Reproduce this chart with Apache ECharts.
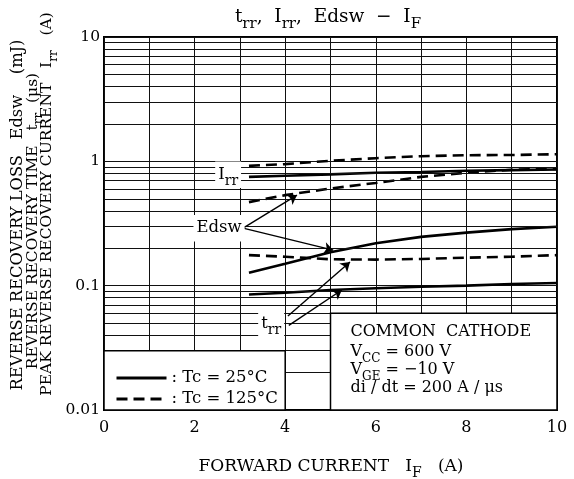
<!DOCTYPE html>
<html><head><meta charset="utf-8">
<script src="https://cdn.jsdelivr.net/npm/echarts@6/dist/echarts.min.js"></script>
<style>html,body{margin:0;padding:0;background:#fff}#c{width:574px;height:479px}</style>
</head><body><div id="c"></div>
<script>
// ---- data ----
const xs      = [3.2, 4, 5, 6, 7, 8, 9, 10];
const irr25   = [0.75, 0.766, 0.785, 0.81, 0.82, 0.84, 0.85, 0.86];
const irr125  = [0.92, 0.95, 1.01, 1.06, 1.10, 1.12, 1.125, 1.14];
const edsw25  = [0.127, 0.15, 0.186, 0.219, 0.247, 0.267, 0.285, 0.298];
const edsw125 = [0.47, 0.535, 0.605, 0.67, 0.75, 0.81, 0.855, 0.87];
const trr25   = [0.085, 0.0877, 0.0923, 0.0952, 0.098, 0.100, 0.103, 0.105];
const trr125  = [0.176, 0.171, 0.163, 0.162, 0.164, 0.168, 0.171, 0.176];
const xTickLabels = [0, 2, 4, 6, 8, 10];
const yTickLabels = ['0.01', '0.1', '1', '10'];
const minorY = [0.02,0.03,0.04,0.05,0.06,0.07,0.08,0.09,0.2,0.3,0.4,0.5,0.6,0.7,0.8,0.9,2,3,4,5,6,7,8,9];
// annotation anchors (data coords)
const irrLabelAt  = [2.74, 0.78];
const edswLabelAt = [2.54, 0.29];
const trrLabelAt  = [3.69, 0.049];
const edswArrows = [[[3.07, 0.29], [4.26, 0.535]], [[3.07, 0.29], [5.06, 0.193]]];
const trrArrows  = [[[4.06, 0.057], [5.43, 0.155]], [[4.08, 0.048], [5.25, 0.0923]]];
const legendBox = [[0, 0.03], [4, 0.01]];
const condBox   = [[5, 0.06], [10, 0.01]];

const F = 'DejaVu Serif';
const S25 = ': Tc = 25°C', S125 = ': Tc = 125°C';
const chart = echarts.init(document.getElementById('c'));
const pairs = ys => xs.map((x, i) => [x, ys[i]]);
const solidLS  = {type: 'solid', width: 2.6, color: '#000'};
const dashedLS = {type: [11, 6], width: 2.6, color: '#000'};
function curve(name, ys, ls) {
  return {type: 'line', name, data: pairs(ys), symbol: 'none', lineStyle: ls,
    itemStyle: {color: '#000'}, silent: true, z: 3};
}
const option = {
  animation: false,
  grid: {left: 104, top: 37, width: 453, height: 373, show: true, borderColor: '#000', borderWidth: 2},
  xAxis: {type: 'value', min: 0, max: 10, interval: 1,
    axisLine: {show: false}, axisTick: {show: false},
    splitLine: {show: true, lineStyle: {color: '#111', width: 1}},
    axisLabel: {color: '#000', fontFamily: F, fontSize: 16, margin: 10,
      formatter: v => xTickLabels.includes(v) ? String(v) : ''}},
  yAxis: {type: 'log', logBase: 10, min: 0.01, max: 10,
    axisLine: {show: false}, axisTick: {show: false},
    splitLine: {show: true, lineStyle: {color: '#111', width: 1}},
    axisLabel: {color: '#000', fontFamily: F, fontSize: 15.5, margin: 4,
      formatter: v => { const s = String(+(+v).toPrecision(2)); return yTickLabels.includes(s) ? s : ''; }}},
  legend: {data: [S25, S125], orient: 'vertical', left: 110, top: 363, padding: 5, itemWidth: 50, itemHeight: 14, itemGap: 1,
    itemStyle: {opacity: 0}, lineStyle: {width: 3},
    textStyle: {fontFamily: F, fontSize: 16.5, color: '#000', lineHeight: 20}, z: 10},
  series: [
    {type: 'line', name: 'minor', data: [], silent: true, z: 1,
      markLine: {silent: true, symbol: 'none', label: {show: false},
        lineStyle: {type: 'solid', color: '#111', width: 1},
        data: minorY.map(v => ({yAxis: v}))}},
    curve(S25, irr25, solidLS), curve(S125, irr125, dashedLS),
    curve(S25, edsw25, solidLS), curve(S125, edsw125, dashedLS),
    curve(S25, trr25, solidLS), curve(S125, trr125, dashedLS),
    {type: 'lines', coordinateSystem: 'cartesian2d', silent: true, z: 6,
      symbol: ['none', 'arrow'], symbolSize: [0, 9],
      lineStyle: {color: '#000', width: 1.4, opacity: 1},
      data: edswArrows.concat(trrArrows).map(c => ({coords: c}))}
  ]
};
chart.setOption(option);

const P = d => chart.convertToPixel({gridIndex: 0}, d);
function rt(text, base, subSize) {
  const L = base + 10;
  return {text, fontFamily: F, fontSize: base, fill: '#000',
    rich: {n: {fontFamily: F, fontSize: base, lineHeight: L},
           s: {fontFamily: F, fontSize: subSize, lineHeight: subSize + 2, verticalAlign: 'bottom'}}};
}
function boxRect(b) {
  const a = P(b[0]), c = P(b[1]);
  return {type: 'rect', shape: {x: a[0], y: a[1], width: c[0] - a[0], height: c[1] - a[1]},
    style: {fill: '#fff', stroke: '#000', lineWidth: 1.5}, z: 5};
}
function label(at, text) {
  const p = P(at);
  return {type: 'text', x: p[0], y: p[1], z: 7,
    style: Object.assign(rt(text, 16.5, 14), {align: 'center', verticalAlign: 'middle',
      backgroundColor: '#fff', padding: [0, 3, 0, 3]})};
}
const cb = P(condBox[0]);
const condLines = ['{n|COMMON  CATHODE}', '{n|V}{s|CC}{n| = 600 V}', '{n|V}{s|GE}{n| = −10 V}', '{n|di / dt = 200 A / μs}'];
const condOffsets = [19, 39, 57, 75];
const yTitle = [
  {x: 18, y: 215, size: 16.3, sub: 13, t: '{n|REVERSE RECOVERY LOSS   Edsw    (mJ)}'},
  {x: 32.5, y: 221, size: 15.5, sub: 12, t: '{n|REVERSE RECOVERY TIME   t}{s|rr}{n|  (μs)}'},
  {x: 47, y: 204, size: 15.5, sub: 12, t: '{n|PEAK REVERSE RECOVERY CURRENT   I}{s|rr}{n|   (A)}'}
];
const graphics = [boxRect(legendBox), boxRect(condBox),
  label(irrLabelAt, '{n|I}{s|rr}'), label(edswLabelAt, '{n|Edsw}'), label(trrLabelAt, '{n|t}{s|rr}')];
condLines.forEach((t, i) => graphics.push({type: 'text', x: cb[0] + 20, y: cb[1] + condOffsets[i], z: 8,
  style: Object.assign(rt(t, 16, 12), {align: 'left', verticalAlign: 'middle'})}));
yTitle.forEach(o => graphics.push({type: 'text', x: o.x, y: o.y, rotation: Math.PI / 2, z: 8,
  style: Object.assign(rt(o.t, o.size, o.sub), {align: 'center', verticalAlign: 'middle'})}));
graphics.push({type: 'text', x: 328, y: 17, z: 8,
  style: Object.assign(rt('{n|t}{s|rr}{n|,  I}{s|rr}{n|,  Edsw  −  I}{s|F}', 18.5, 15), {align: 'center', verticalAlign: 'middle'})});
graphics.push({type: 'text', x: 331, y: 467, z: 8,
  style: Object.assign(rt('{n|FORWARD CURRENT   I}{s|F}{n|   (A)}', 17, 14), {align: 'center', verticalAlign: 'middle'})});
chart.setOption({graphic: {elements: graphics}});
</script></body></html>
